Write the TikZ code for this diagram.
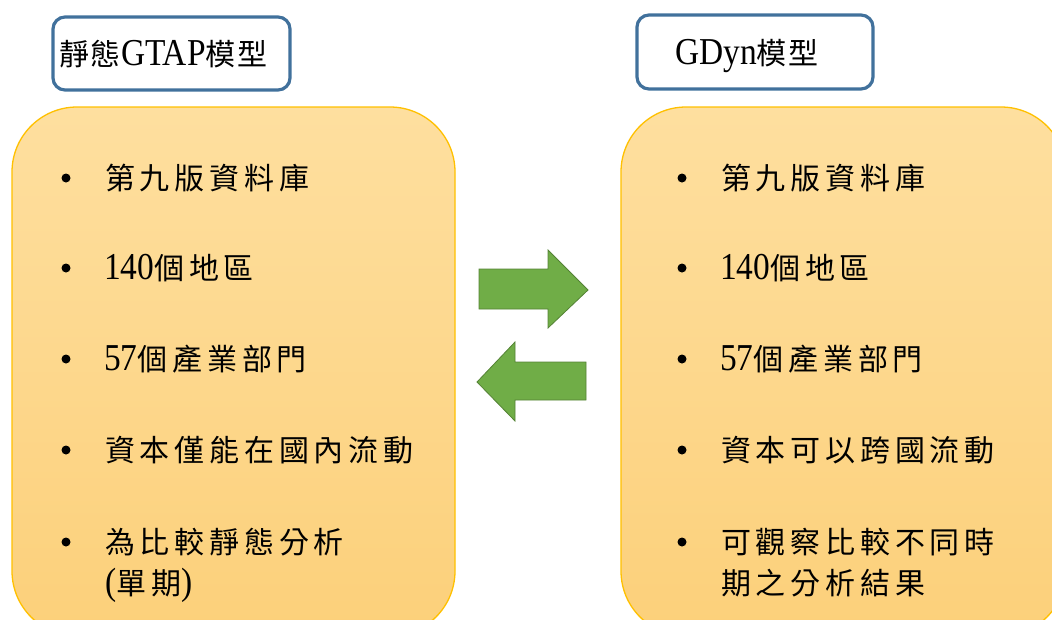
\documentclass[tikz,border=0pt]{standalone}
\usepackage{fontspec}
\setmainfont{Liberation Serif}
\newfontfamily\cjkfont[LetterSpace=16]{Noto Sans CJK TC}
\newfontfamily\cjktitle[LetterSpace=6]{Noto Sans CJK TC}
\newfontfamily\latfont[FakeStretch=0.88]{Liberation Serif}
\newcommand{\lat}[1]{{\latfont\fontsize{38}{40}\selectfont #1}}
\definecolor{boxtop}{HTML}{FEDF9F}
\definecolor{boxbot}{HTML}{FCD07A}
\definecolor{boxline}{HTML}{FFC000}
\definecolor{titleline}{HTML}{41719C}
\definecolor{arrowfill}{HTML}{70AD47}
\definecolor{arrowline}{HTML}{548235}
\tikzset{
  x=1pt, y=1pt,
  panel/.style={draw=boxline, line width=1.3pt, rounded corners=65pt, top color=boxtop, bottom color=boxbot},
  titlebox/.style={draw=titleline, line width=3.2pt, rounded corners=12pt, fill=white},
  bigarrow/.style={fill=arrowfill, draw=arrowline, line width=0.8pt, line join=miter},
  item/.style={anchor=base west, inner sep=0pt, font=\cjkfont\fontsize{30}{34}\selectfont},
  titletext/.style={anchor=base west, inner sep=0pt, font=\cjktitle\fontsize{30}{34}\selectfont},
  bullet/.style={circle, fill=black, inner sep=0pt, minimum size=9pt},
}
\begin{document}
\begin{tikzpicture}
\useasboundingbox (0,0) rectangle (1052,-619);
\clip (0,0) rectangle (1052,-619);
% panels
\shade[panel] (12,-107) rectangle (455,-636);
\shade[panel] (621,-107) rectangle (1066,-636);
\node[inner sep=0pt] (leftpanel) at (233,-370) {};
\node[inner sep=0pt] (rightpanel) at (843,-370) {};
% title boxes
\draw[titlebox] (53,-17) rectangle (290,-90);
\draw[titlebox] (637,-15) rectangle (873,-89);
\node[titletext] (t1) at (59,-65) {靜態\lat{GTAP}模型};
\node[titletext] (t2) at (675,-64) {\lat{GDyn}模型};
% arrows
\draw[bigarrow] (479,-269) -- (548,-269) -- (548,-250) -- (588,-290) -- (548,-328) -- (548,-309) -- (479,-309) -- cycle;
\draw[bigarrow] (586,-362) -- (515,-362) -- (515,-342) -- (477,-382) -- (515,-421) -- (515,-400) -- (586,-400) -- cycle;
% bullets
\foreach \y [count=\i] in {178,268,359,450,542} {
  \node[bullet] (lb\i) at (66,-\y) {};
  \node[bullet] (rb\i) at (682,-\y) {};
}
% left items
\node[item] (l1) at (105,-189) {第九版資料庫};
\node[item] (l2) at (104,-279) {\lat{140}個地區};
\node[item] (l3) at (104,-370) {\lat{57}個產業部門};
\node[item] (l4) at (105,-461) {資本僅能在國內流動};
\node[item] (l5) at (105,-553) {為比較靜態分析};
\node[item] (l6) at (105,-594) {\lat{(}單期\lat{)}};
% right items
\node[item] (r1) at (721,-189) {第九版資料庫};
\node[item] (r2) at (720,-279) {\lat{140}個地區};
\node[item] (r3) at (720,-370) {\lat{57}個產業部門};
\node[item] (r4) at (721,-461) {資本可以跨國流動};
\node[item] (r5) at (721,-553) {可觀察比較不同時};
\node[item] (r6) at (721,-594) {期之分析結果};
\end{tikzpicture}
\end{document}
